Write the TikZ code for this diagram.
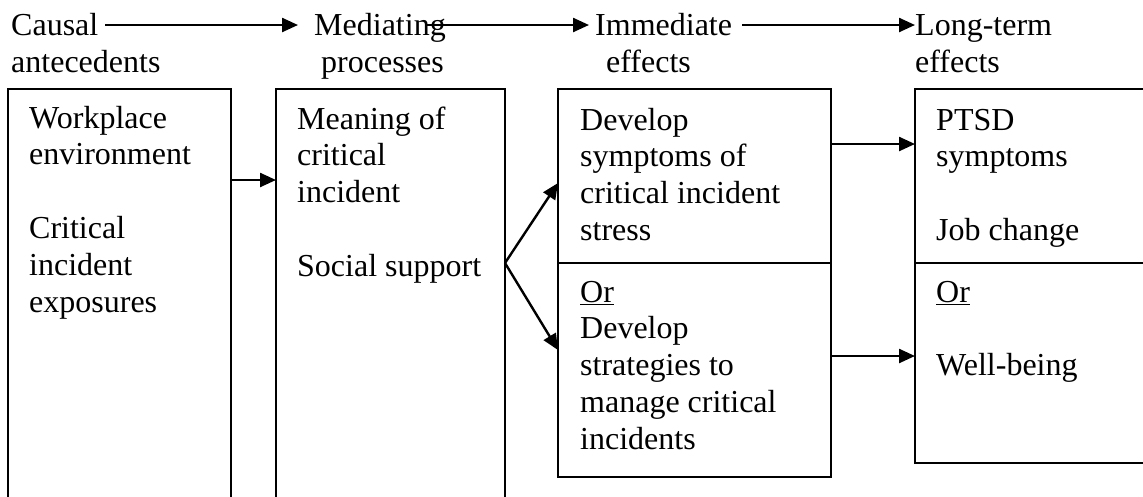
\documentclass[tikz,border=0pt]{standalone}
\usepackage{fontspec}
\setmainfont{Liberation Serif}
\usetikzlibrary{arrows.meta}
\begin{document}
\begin{tikzpicture}[x=1pt,y=-1pt,
  txt/.style={anchor=base west, inner sep=0pt, align=left, font=\fontsize{32}{36.8}\selectfont},
  boxnode/.style={draw, line width=1.6pt, inner sep=0pt, outer sep=0pt},
  arr/.style={line width=2.4pt, -{Triangle[length=16pt,width=14pt]}}]
\useasboundingbox (0,0) rectangle (1143,496);
\clip (0,0) rectangle (1143,496);

% boxes
\node[boxnode, minimum width=223pt, minimum height=520pt] (box1) at (119.5,349) {};
\node[boxnode, minimum width=229pt, minimum height=520pt] (box2) at (390.5,349) {};
\node[boxnode, minimum width=273pt, minimum height=174pt] (box3a) at (694.5,176) {};
\node[boxnode, minimum width=273pt, minimum height=214pt] (box3b) at (694.5,370) {};
\node[boxnode, minimum width=248pt, minimum height=174pt] (box4a) at (1039,176) {};
\node[boxnode, minimum width=248pt, minimum height=200pt] (box4b) at (1039,363) {};

% headers
\node[txt] (h1a) at (11,35) {Causal};
\node[txt] (h1b) at (11,72) {antecedents};
\node[txt] (h2a) at (314,35) {Mediating};
\node[txt] (h2b) at (321,72) {processes};
\node[txt] (h3a) at (595,35) {Immediate};
\node[txt] (h3b) at (606,72) {effects};
\node[txt] (h4a) at (915,35) {Long-term};
\node[txt] (h4b) at (915,72) {effects};

% box texts (base anchor = baseline of last line)
\node[txt] (t1) at (29,312) {Workplace\\environment\\\mbox{}\\Critical\\incident\\exposures};
\node[txt] (t2) at (297,276.2) {Meaning of\\critical\\incident\\\mbox{}\\Social support};
\node[txt] (t3a) at (580,240.4) {Develop\\symptoms of\\critical incident\\stress};
\node[txt] (t3b) at (580,449.2) {\underline{Or}\\Develop\\strategies to\\manage critical\\incidents};
\node[txt] (t4a) at (936,240.4) {PTSD\\symptoms\\\mbox{}\\Job change};
\node[txt] (t4b) at (936,375.6) {\underline{Or}\\\mbox{}\\Well-being};

% header arrows
\coordinate (a1s) at (105,25);
\coordinate (a1e) at (298,25);
\coordinate (a2s) at (425,25);
\coordinate (a2e) at (589,25);
\coordinate (a3s) at (742,25);
\coordinate (a3e) at (915,25);
\draw[arr] (a1s) -- (a1e);
\draw[arr] (a2s) -- (a2e);
\draw[arr] (a3s) -- (a3e);

% connectors
\coordinate (y180) at (0,180);
\coordinate (y183) at (0,183);
\coordinate (y350) at (0,350);
\coordinate (y144) at (0,144);
\coordinate (y356) at (0,356);
\coordinate (fork) at (box2.east |- box3a.south);
\draw[arr] (box1.east |- y180) -- (box2.west |- y180);
\draw[arr] (fork) -- (box3a.west |- y183);
\draw[arr] (fork) -- (box3b.west |- y350);
\draw[arr] (box3a.east |- y144) -- (box4a.west |- y144);
\draw[arr] (box3b.east |- y356) -- (box4b.west |- y356);
\end{tikzpicture}
\end{document}
